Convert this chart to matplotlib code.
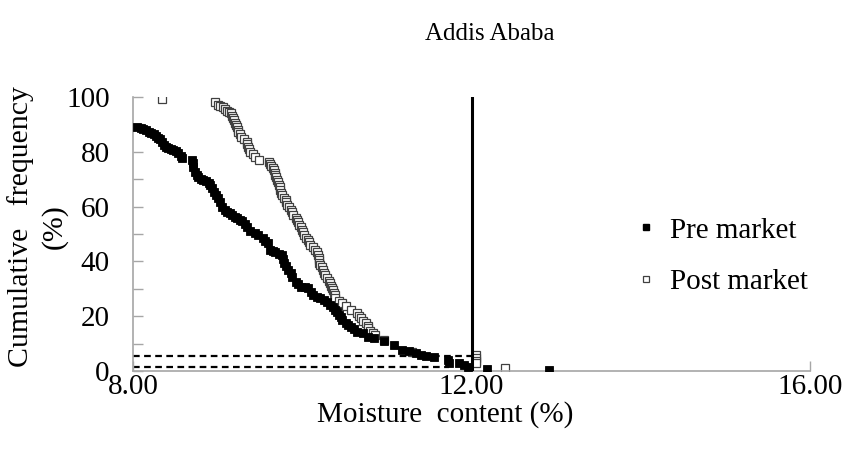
import matplotlib
matplotlib.use("Agg")
import matplotlib.pyplot as plt
from matplotlib.ticker import MultipleLocator, FormatStrFormatter
from matplotlib.lines import Line2D

title = "Addis Ababa"
x_label = "Moisture  content (%)"
y_label = "Cumulative   frequency\n(%)"
series_names = ["Pre market", "Post market"]

pre_x = [8.04, 8.09, 8.12, 8.15, 8.18, 8.21, 8.24, 8.27, 8.29, 8.32, 8.34, 8.36, 8.39, 8.41, 8.44,
         8.47, 8.50, 8.53, 8.56, 8.58, 8.69, 8.70, 8.71, 8.73, 8.75, 8.77, 8.80, 8.83, 8.86, 8.89,
         8.91, 8.93, 8.96, 8.98, 9.00, 9.02, 9.05, 9.08, 9.11, 9.14, 9.17, 9.20, 9.23, 9.26, 9.29,
         9.32, 9.35, 9.38, 9.44, 9.48, 9.53, 9.56, 9.59, 9.62, 9.65, 9.68, 9.72, 9.76, 9.77, 9.78,
         9.81, 9.83, 9.86, 9.88, 9.92, 9.95, 9.98, 10.03, 10.07, 10.10, 10.13, 10.17, 10.21, 10.25,
         10.29, 10.33, 10.36, 10.39, 10.41, 10.43, 10.45, 10.47, 10.51, 10.54, 10.57, 10.61, 10.65,
         10.72, 10.78, 10.84, 10.96, 11.08, 11.18, 11.26, 11.34, 11.40, 11.46, 11.55, 11.72, 11.73,
         11.85, 11.91, 11.96, 12.18, 12.91]
pre_y = [89.0, 88.6, 88.3, 87.8, 87.2, 86.8, 86.5, 85.6, 85.0, 84.5, 83.5, 82.5, 81.9, 81.4, 81.0,
         80.7, 80.2, 79.6, 78.5, 77.7, 77.0, 75.8, 74.5, 72.6, 71.6, 70.8, 70.2, 69.7, 69.2, 68.6,
         67.7, 66.8, 65.4, 64.2, 63.0, 61.7, 59.9, 58.9, 58.0, 57.5, 56.9, 56.3, 55.8, 55.2, 54.7,
         53.6, 52.5, 51.2, 50.4, 49.5, 48.5, 47.6, 46.7, 44.2, 43.8, 43.4, 42.8, 42.3, 40.8, 39.4,
         38.2, 36.9, 35.6, 34.3, 32.5, 31.6, 30.7, 30.5, 30.3, 29.0, 27.7, 27.2, 26.6, 25.9,
         25.2, 24.0, 23.4, 22.3, 21.5, 20.4, 19.7, 18.6, 17.5, 16.8, 16.1, 15.2, 14.2,
         13.9, 12.4, 12.0, 11.0, 9.5, 7.7, 7.2, 6.6, 6.0, 5.5, 5.1, 4.0, 2.9,
         2.9, 2.2, 1.5, 0.9, 0.4]

post_x = [8.34, 8.97, 9.00, 9.03, 9.06, 9.09, 9.11, 9.13, 9.15, 9.17, 9.18, 9.19, 9.20, 9.22, 9.23,
          9.24, 9.24, 9.26, 9.27, 9.31, 9.35, 9.35, 9.36, 9.37, 9.38, 9.41, 9.44, 9.49, 9.60, 9.62,
          9.63, 9.65, 9.66, 9.67, 9.68, 9.69, 9.70, 9.71, 9.72, 9.73, 9.74, 9.75, 9.76, 9.78, 9.80,
          9.81, 9.82, 9.84, 9.86, 9.88, 9.89, 9.92, 9.94, 9.95, 9.96, 9.98, 10.00, 10.01, 10.02,
          10.04, 10.06, 10.08, 10.09, 10.12, 10.15, 10.17, 10.18, 10.19, 10.19, 10.20, 10.21, 10.23,
          10.24, 10.25, 10.27, 10.29, 10.31, 10.33, 10.34, 10.35, 10.36, 10.37, 10.38, 10.39, 10.43,
          10.47, 10.52, 10.57, 10.65, 10.67, 10.69, 10.72, 10.75, 10.77, 10.78, 10.80, 10.83, 10.86,
          10.96, 11.30, 12.05, 12.05, 12.05, 12.05, 12.40]
post_y = [99.3, 98.2, 97.0, 96.7, 96.4, 95.7, 95.0, 94.5, 94.0, 93.2, 92.3, 91.4, 90.5, 89.8, 89.0,
          88.1, 87.2, 86.3, 85.4, 84.5, 83.6, 82.7, 81.8, 80.9, 80.0, 79.0, 78.0, 77.0, 76.3, 75.5,
          74.8, 74.1, 73.4, 72.4, 71.5, 70.6, 69.7, 68.8, 67.9, 67.0, 66.0, 65.1, 64.2, 63.3, 62.4,
          61.5, 60.6, 59.7, 58.8, 57.9, 57.0, 56.0, 55.0, 54.2, 53.3, 52.4, 51.5, 50.6, 49.6,
          48.7, 47.8, 46.9, 46.0, 45.1, 44.2, 43.3, 42.3, 41.4, 40.5, 39.6, 38.7, 37.8,
          36.9, 35.8, 34.9, 34.0, 33.0, 32.0, 31.1, 30.3, 29.4, 28.5, 27.6, 26.6, 25.7,
          24.8, 23.6, 22.3, 21.2, 20.2, 19.3, 18.4, 17.5, 16.6, 15.7, 14.8, 13.9, 13.0,
          11.3, 6.9, 5.8, 4.8, 3.8, 2.9, 1.1]

limit_x = 12.0
ref_upper_y = 5.6
ref_lower_y = 1.6
ref_lower_end = 11.73

plt.rcParams['font.family'] = ['Liberation Serif', 'DejaVu Serif']

fig = plt.figure(figsize=(8.49, 4.57), dpi=100)
ax = fig.add_axes([0.157, 0.188, 0.797, 0.600])

ax.plot(pre_x, pre_y, linestyle='none', marker='s', markersize=5.6,
        markerfacecolor='black', markeredgecolor='black', markeredgewidth=0.6, zorder=3)
ax.plot(post_x, post_y, linestyle='none', marker='s', markersize=5.4,
        markerfacecolor='white', markeredgecolor='#404040', markeredgewidth=0.9, zorder=2)

ax.plot([limit_x, limit_x], [0, 100], color='black', linewidth=2.2, zorder=4)
ax.plot([8, limit_x], [ref_upper_y, ref_upper_y], color='black', linewidth=1.6,
        linestyle=(0, (3, 2)), zorder=1)
ax.plot([8, ref_lower_end], [ref_lower_y, ref_lower_y], color='black', linewidth=1.6,
        linestyle=(0, (3, 2)), zorder=1)

ax.set_xlim(8, 16)
ax.set_ylim(0, 100)
ax.xaxis.set_major_locator(MultipleLocator(4))
ax.xaxis.set_major_formatter(FormatStrFormatter('%.2f'))
ax.yaxis.set_major_locator(MultipleLocator(20))
ax.yaxis.set_minor_locator(MultipleLocator(10))

for s in ['top', 'right']:
    ax.spines[s].set_visible(False)
for s in ['left', 'bottom']:
    ax.spines[s].set_color('#a6a6a6')
    ax.spines[s].set_linewidth(1.2)

ax.tick_params(axis='both', which='both', direction='in', color='#a6a6a6', width=1.0,
               labelsize=21, labelcolor='black')
ax.tick_params(axis='y', which='both', length=7, pad=17)
ax.tick_params(axis='x', which='major', length=7, pad=2)

fig.text(0.524, 0.093, x_label, ha='center', va='center', fontsize=21)
fig.text(0.044, 0.505, y_label, rotation=90, ha='center', va='center', fontsize=21.5,
         linespacing=1.3, multialignment='center')
fig.text(0.577, 0.925, title, ha='center', va='center', fontsize=18)

handles = [Line2D([], [], linestyle='none', marker='s', markersize=4.5, markerfacecolor='black',
                  markeredgecolor='black'),
           Line2D([], [], linestyle='none', marker='s', markersize=4.5, markerfacecolor='white',
                  markeredgecolor='#404040', markeredgewidth=0.9)]
fig.legend(handles, series_names, loc='center left', bbox_to_anchor=(0.72, 0.44),
           frameon=False, fontsize=21, handlelength=0.6, handletextpad=0.5,
           labelspacing=0.85)

fig.savefig("out.png", dpi=100)
